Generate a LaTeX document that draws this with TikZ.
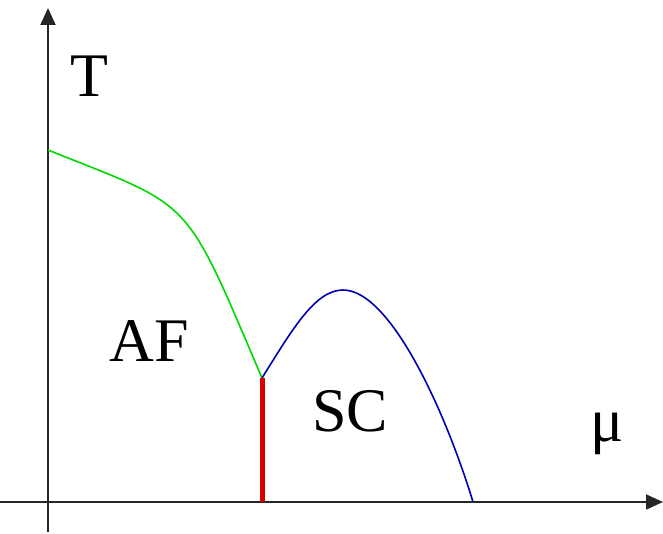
\documentclass[tikz,border=0pt]{standalone}
\usepackage{fontspec}
\setmainfont{Liberation Serif}
\usetikzlibrary{arrows.meta}
\begin{document}
\begin{tikzpicture}[x=1pt,y=-1pt,
  axis/.style={line width=2pt,draw=black!85,-{Triangle[length=17pt,width=15pt]}},
  lbl/.style={font=\fontsize{62}{62}\selectfont,inner sep=0pt},
  afline/.style={line width=1.6pt,draw=green!85!black},
  scline/.style={line width=1.6pt,draw=blue!70!black},
  redline/.style={line width=5pt,draw=red!85!black}]
\useasboundingbox (0,0) rectangle (663,534);
\coordinate (ybot) at (48,532);
\coordinate (ytop) at (48,8);
\coordinate (xleft) at (0,502);
\coordinate (xright) at (663,502);
\coordinate (tc) at (48,150);
\coordinate (tri) at (262,378);
\coordinate (base) at (262,502);
\coordinate (peak) at (343,290);
\coordinate (scend) at (473,502);
\draw[axis] (ybot) -- (ytop);
\draw[axis] (xleft) -- (xright);
\draw[afline] (tc) .. controls (195,209) and (183,193) .. (tri);
\draw[scline] (tri) .. controls (292,330) and (315,290) .. (peak) .. controls (390,290) and (445,410) .. (scend);
\draw[redline] (base) -- (tri);
\node[lbl] (T) at (89,76) {T};
\node[lbl] (AF) at (149,341) {AF};
\node[lbl] (SC) at (350,411) {SC};
\node[lbl] (mu) at (607,434) {μ};
\end{tikzpicture}
\end{document}
